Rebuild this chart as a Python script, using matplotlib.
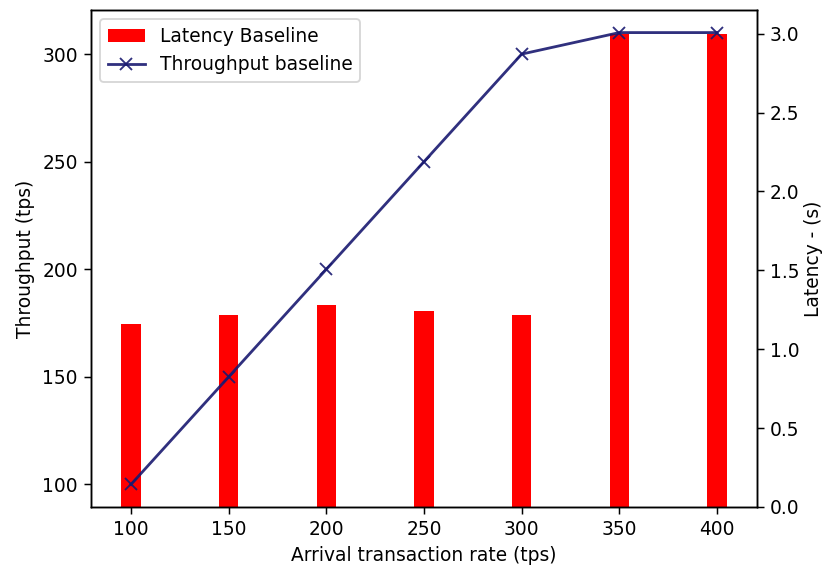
import matplotlib
matplotlib.use("Agg")
import matplotlib.pyplot as plt

rates = [100, 150, 200, 250, 300, 350, 400]
throughput = [100, 150, 200, 250, 300, 310, 310]
latency = [1.16, 1.215, 1.28, 1.245, 1.215, 3.0, 3.0]

DPI = 134
fig = plt.figure(figsize=(823 / DPI, 565 / DPI), dpi=DPI)
ax = fig.add_subplot(111)
fig.subplots_adjust(left=91 / 823, right=757 / 823, top=1 - 10 / 565, bottom=1 - 507 / 565)
ax2 = ax.twinx()

bars = ax2.bar(rates, latency, width=10, color='red', label='Latency Baseline')
line, = ax.plot(rates, throughput, color='midnightblue', marker='x',
                label='Throughput baseline', alpha=0.9)
ax.set_zorder(ax2.get_zorder() + 1)
ax.patch.set_visible(False)

ax.set_xlabel('Arrival transaction rate (tps)')
ax.set_ylabel('Throughput (tps)')
ax2.set_ylabel('Latency - (s)', labelpad=2.5)
ax.set_xticks(rates)

ax.legend([bars, line], ['Latency Baseline', 'Throughput baseline'], loc='upper left')

fig.savefig('out.png', dpi=DPI)
